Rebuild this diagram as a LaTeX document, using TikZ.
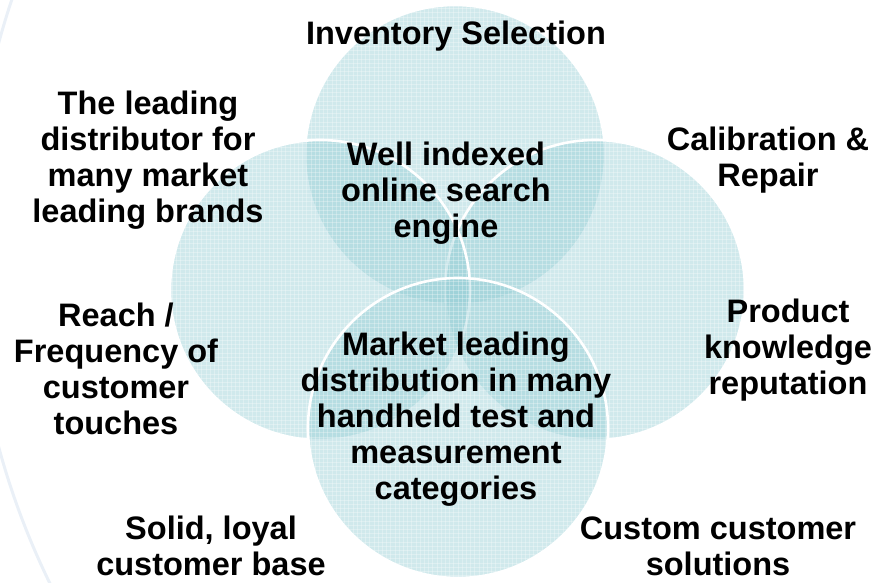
\documentclass[tikz,border=0pt]{standalone}
\usepackage{fontspec}
\setmainfont{Liberation Sans}
\definecolor{circfill}{RGB}{150,206,213}
\definecolor{ringcol}{RGB}{234,240,247}
\begin{document}
\begin{tikzpicture}[x=1pt,y=-1pt,
  petal/.style={fill=circfill, fill opacity=0.45, draw=white, line width=2.6pt},
  label/.style={align=center, inner sep=0pt, font=\bfseries\fontsize{32.5}{36}\selectfont}]
\useasboundingbox (0,0) rectangle (880,583);

% faint background ring
\draw[ringcol, line width=3pt] (744,245) circle[radius=772];

% the four overlapping circles
\draw[petal] (455,155) circle[radius=150];
\draw[petal] (595,290) circle[radius=150];
\draw[petal] (320,290) circle[radius=150];
\draw[petal] (458,428) circle[radius=150];

% fine grid texture inside the circles
\begin{scope}
  \clip (455,155) circle[radius=149] (595,290) circle[radius=149]
        (320,290) circle[radius=149] (458,428) circle[radius=149];
  \foreach \i in {0,...,140} {
    \draw[white, opacity=0.28, line width=0.5pt] (168+4.2*\i,0) -- (168+4.2*\i,583);
    \draw[white, opacity=0.28, line width=0.5pt] (0,4.2*\i) -- (880,4.2*\i);
  }
\end{scope}

% texts
\node[label] (inv) at (456,36) {Inventory Selection};
\node[label] (lead) at (148,160) {The leading\\distributor for\\many market\\leading brands};
\node[label] (well) at (446,193) {Well indexed\\online search\\engine};
\node[label] (calib) at (768,160) {Calibration \&\\Repair};
\node[label] (reach) at (116,369) {Reach /\\Frequency of\\customer\\touches};
\node[label] (market) at (456,419) {Market leading\\distribution in many\\handheld test and\\measurement\\categories};
\node[label] (product) at (788,350) {Product\\knowledge\\reputation};
\node[label] (solid) at (211,546) {Solid, loyal\\customer base};
\node[label] (custom) at (718,546) {Custom customer\\solutions};
\end{tikzpicture}
\end{document}
